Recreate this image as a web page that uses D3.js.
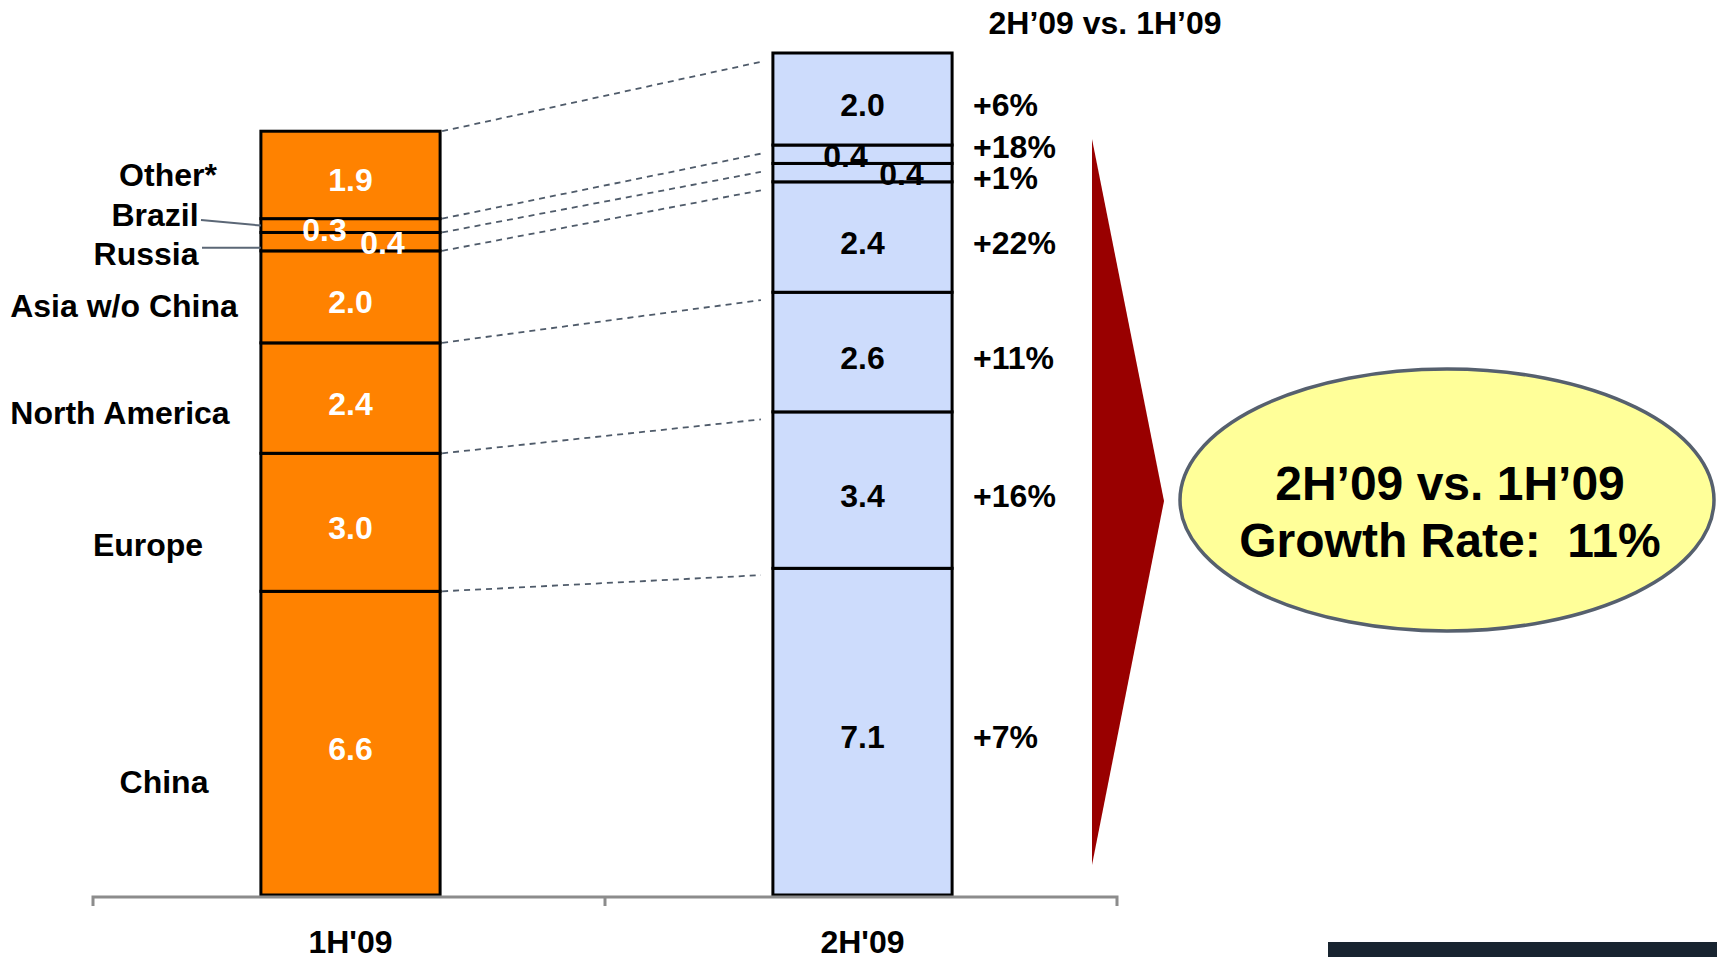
<!DOCTYPE html>
<meta charset="utf-8">
<style>
    body { margin: 0; background: #fff; }
    svg { display: block; }
    text { font-family: "Liberation Sans", Arial, sans-serif; font-weight: bold; white-space: pre; }
</style>
<body>
<svg></svg>
<script src="https://d3js.org/d3.v7.min.js"></script>
<script>
    // chart data
    const periods = ["1H'09", "2H'09"];
    const regions = ["China", "Europe", "North America", "Asia w/o China", "Russia", "Brazil", "Other*"];
    const firstHalf = [6.6, 3.0, 2.4, 2.0, 0.4, 0.3, 1.9];
    const secondHalf = [7.1, 3.4, 2.6, 2.4, 0.4, 0.4, 2.0];
    const growth = ["+7%", "+16%", "+11%", "+22%", "+1%", "+18%", "+6%"];
    const headerText = "2H\u201909 vs. 1H\u201909";
    const bubbleLines = ["2H\u201909 vs. 1H\u201909", "Growth Rate:  11%"];

    let width = 1717,
        height = 957;

    let svg = d3.select("svg")
        .attr("width", width)
        .attr("height", height);

    // table for d3.stack built from the arrays
    let table = periods.map(function (p, i) {
        let row = {period: p};
        regions.forEach(function (r, j) {
            row[r] = (i === 0 ? firstHalf : secondHalf)[j];
        });
        return row;
    });
    let series = d3.stack().keys(regions)(table);

    let x = d3.scaleBand().domain(periods).range([93, 1117]);
    let y = d3.scaleLinear().domain([0, d3.sum(secondHalf)]).range([895, 53]);
    let barW = x.step() * 0.35;
    let fills = ["#ff8200", "#cddcfc"];
    let textFills = ["#fff", "#000"];
    let fs = 32;

    function barLeft(p) { return x(p) + x.bandwidth() / 2 - barW / 2 + 1.5; }
    function barMid(p) { return barLeft(p) + barW / 2; }

    // dashed connectors between segment tops
    let connG = svg.append("g")
        .attr("stroke", "#4f5b6a")
        .attr("stroke-width", 1.8)
        .attr("stroke-dasharray", "6,5");
    series.forEach(function (s) {
        let x1 = barLeft(periods[0]) + barW, y1 = y(s[0][1]);
        let x2 = barLeft(periods[1]), y2 = y(s[1][1]);
        let t = (x2 - 12 - x1) / (x2 - x1);
        connG.append("line")
            .attr("x1", x1 + 2).attr("y1", y1)
            .attr("x2", x1 + (x2 - x1) * t).attr("y2", y1 + (y2 - y1) * t + 6);
    });

    // stacked segments
    let segG = svg.append("g");
    series.forEach(function (s) {
        segG.selectAll(null)
            .data(s)
            .enter().append("rect")
            .attr("x", function (d) { return barLeft(d.data.period); })
            .attr("y", function (d) { return y(d[1]); })
            .attr("width", barW)
            .attr("height", function (d) { return y(d[0]) - y(d[1]); })
            .attr("fill", function (d, i) { return fills[i]; })
            .attr("stroke", "#000")
            .attr("stroke-width", 3);
    });

    // segment value labels (small ones nudged sideways like the original)
    let nudge = {"Brazil": [[-26, 4], [-17, 1]], "Russia": [[32, 1], [39, 1]]};
    series.forEach(function (s) {
        s.forEach(function (d, i) {
            let off = nudge[s.key] ? nudge[s.key][i] : [0, 5];
            svg.append("text")
                .attr("x", barMid(d.data.period) + off[0])
                .attr("y", (y(d[0]) + y(d[1])) / 2 + off[1])
                .attr("dy", "0.36em")
                .attr("text-anchor", "middle")
                .attr("font-size", fs)
                .attr("fill", textFills[i])
                .text(d3.format(".1f")(d[1] - d[0]));
        });
    });

    // growth percentages to the right of the second bar
    series.forEach(function (s, j) {
        let d = s[1];
        let off = s.key === "Brazil" ? -8 : 5;
        svg.append("text")
            .attr("x", barLeft(periods[1]) + barW + 21)
            .attr("y", (y(d[0]) + y(d[1])) / 2 + off)
            .attr("dy", "0.36em")
            .attr("font-size", fs)
            .text(growth[j]);
    });

    svg.append("text")
        .attr("x", 1105).attr("y", 22).attr("dy", "0.36em")
        .attr("text-anchor", "middle")
        .attr("font-size", fs)
        .text(headerText);

    // region labels on the left
    let labelPos = {
        "Other*": [168, 174], "Brazil": [155, 214], "Russia": [146, 253],
        "Asia w/o China": [124, 305], "North America": [120, 412],
        "Europe": [148, 544], "China": [164, 781]
    };
    regions.forEach(function (r) {
        svg.append("text")
            .attr("x", labelPos[r][0]).attr("y", labelPos[r][1]).attr("dy", "0.36em")
            .attr("text-anchor", "middle")
            .attr("font-size", fs)
            .text(r);
    });

    // leader lines for the thin segments
    let s0 = series[regions.indexOf("Brazil")][0], s1 = series[regions.indexOf("Russia")][0];
    svg.append("line")
        .attr("x1", 201).attr("y1", 220)
        .attr("x2", barLeft(periods[0])).attr("y2", (y(s0[0]) + y(s0[1])) / 2)
        .attr("stroke", "#5b6776").attr("stroke-width", 2);
    svg.append("line")
        .attr("x1", 202).attr("y1", y(s1[0]) - 3)
        .attr("x2", barLeft(periods[0])).attr("y2", y(s1[0]) - 3)
        .attr("stroke", "#5b6776").attr("stroke-width", 2);

    // category axis with ticks at band edges
    let axisY = y(0) + 2;
    let edges = [x.range()[0]].concat(periods.map(function (p) { return x(p) + x.step(); }));
    svg.append("path")
        .attr("d", "M" + edges[0] + "," + (axisY + 9) + "V" + axisY + "H" + edges[2] + "V" + (axisY + 9))
        .attr("fill", "none").attr("stroke", "#8c8c8c").attr("stroke-width", 3);
    svg.append("line")
        .attr("x1", edges[1]).attr("x2", edges[1])
        .attr("y1", axisY).attr("y2", axisY + 9)
        .attr("stroke", "#8c8c8c").attr("stroke-width", 3);
    svg.selectAll(".period")
        .data(periods)
        .enter().append("text")
        .attr("x", function (p) { return barMid(p); })
        .attr("y", 941).attr("dy", "0.36em")
        .attr("text-anchor", "middle")
        .attr("font-size", fs)
        .text(function (p) { return p; });

    // red arrow and growth bubble
    svg.append("polygon")
        .attr("points", "1092,139 1164,501 1092,865")
        .attr("fill", "#990000");
    svg.append("ellipse")
        .attr("cx", 1447).attr("cy", 500)
        .attr("rx", 267).attr("ry", 131)
        .attr("fill", "#ffff99")
        .attr("stroke", "#56606e").attr("stroke-width", 3.5);
    svg.selectAll(".bubble")
        .data(bubbleLines)
        .enter().append("text")
        .attr("x", 1450)
        .attr("y", function (d, i) { return 483 + i * 57; })
        .attr("dy", "0.36em")
        .attr("text-anchor", "middle")
        .attr("font-size", 48)
        .text(function (d) { return d; });

    // dark strip at the bottom right of the slide
    svg.append("rect")
        .attr("x", 1328).attr("y", 942)
        .attr("width", 389).attr("height", 15)
        .attr("fill", "#182430");
</script>
</body>
